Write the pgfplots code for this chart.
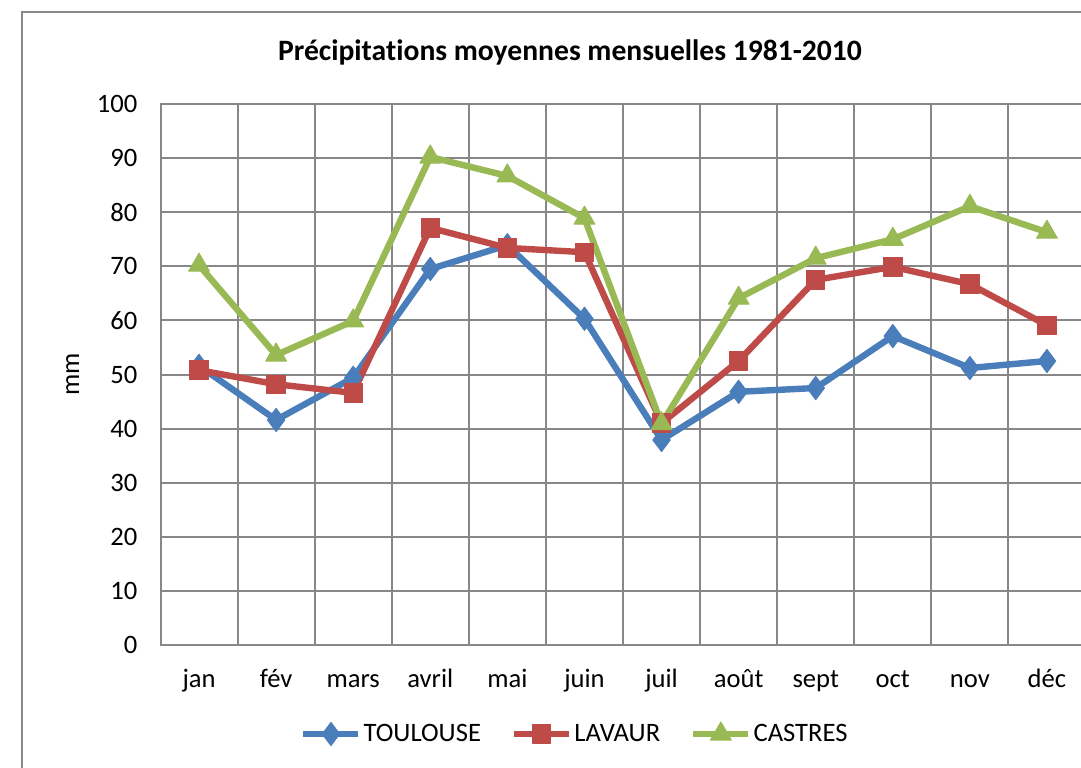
\documentclass[border=0pt]{standalone}
\usepackage{fontspec}
\setmainfont{Carlito}[Ligatures=NoCommon]
\usepackage{pgfplots}
\pgfplotsset{compat=1.18}
\definecolor{toul}{HTML}{4A7EBB}
\definecolor{lav}{HTML}{BE4B48}
\definecolor{cas}{HTML}{98B954}
\definecolor{gridg}{HTML}{878787}

\begin{document}
\begin{tikzpicture}
\useasboundingbox (0pt,0pt) rectangle (540.5pt,383.5pt);
\clip (0pt,0pt) rectangle (540.5pt,383.5pt);
\draw[gridg, line width=1pt] (11pt,377.5pt) rectangle (600pt,-20pt);
\node[font=\fontsize{14.8}{17}\selectfont\bfseries] at (285pt,357.5pt) {Précipitations moyennes mensuelles 1981-2010};
\begin{axis}[
  at={(80.25pt,61pt)}, anchor=south west, scale only axis,
  width=462.5pt, height=270.5pt,
  xmin=-0.5, xmax=11.5, ymin=0, ymax=100,
  xtick={0,...,11},
  xticklabels={jan,fév,mars,avril,mai,juin,juil,août,sept,oct,nov,déc},
  minor xtick={-0.5,0.5,...,11.5},
  ytick={0,10,...,100},
  xminorgrids=true, ymajorgrids=true, xmajorgrids=false,
  grid style={gridg, line width=1pt},
  minor grid style={gridg, line width=1pt},
  axis line style={gridg, line width=1pt},
  major tick length=0pt, minor tick length=0pt,
  tick label style={font=\fontsize{13.3}{15}\selectfont},
  /pgf/number format/assume math mode=true,
  xticklabel style={anchor=base, yshift=-21pt},
  yticklabel style={xshift=-8pt},
  ylabel={mm}, ylabel style={font=\fontsize{13.3}{15}\selectfont, at={(axis description cs:-0.095,0.5)}, anchor=center},
  legend columns=3,
  legend style={at={(axis description cs:0.448,-0.1645)}, anchor=center, draw=none, fill=none,
    font=\fontsize{13.3}{15}\selectfont, nodes={inner sep=1pt},
    /tikz/every even column/.append style={column sep=14pt}},
  legend image code/.code={\draw[mark repeat=2,mark phase=2] plot coordinates {(0pt,0pt)(13.75pt,0pt)(27.5pt,0pt)};},
  every axis plot/.append style={line width=3.2pt, line join=round},
]
\addplot[toul, mark=diamond*, mark size=5.8pt, mark options={solid, line width=0.5pt}] coordinates {
(0,51.6)(1,41.6)(2,49.4)(3,69.5)(4,73.9)(5,60.3)(6,37.9)(7,46.8)(8,47.5)(9,57.1)(10,51.2)(11,52.5)};
\addlegendentry{TOULOUSE}
\addplot[lav, mark=square*, mark size=4.6pt, mark options={solid, line width=0.5pt}] coordinates {
(0,50.8)(1,48.2)(2,46.6)(3,77.1)(4,73.4)(5,72.6)(6,41.0)(7,52.5)(8,67.5)(9,69.9)(10,66.7)(11,59.1)};
\addlegendentry{LAVAUR}
\addplot[cas, mark=triangle*, mark size=6pt, mark options={solid, line width=0.5pt}] coordinates {
(0,70.2)(1,53.6)(2,59.9)(3,90.2)(4,86.7)(5,78.9)(6,40.9)(7,64.1)(8,71.5)(9,75.0)(10,81.1)(11,76.3)};
\addlegendentry{CASTRES}
\end{axis}
\end{tikzpicture}
\end{document}
